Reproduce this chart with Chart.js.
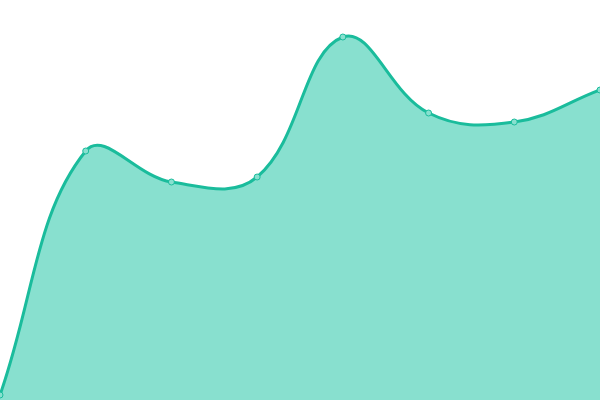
<!DOCTYPE html>
<html>
<head>
<meta charset="utf-8">
<script src="https://cdn.jsdelivr.net/npm/chart.js@4"></script>
<style>
  html, body { margin: 0; padding: 0; background: #fff; }
  #wrap { width: 600px; height: 400px; }
</style>
</head>
<body>
<div id="wrap"><canvas id="chart1"></canvas></div>
<script>
var labels = ["1", "2", "3", "4", "5", "6", "7", "8"];
var values = [1.25, 62.25, 54.5, 55.75, 90.75, 71.75, 69.5, 77.5];

var ctx1 = document.getElementById("chart1").getContext("2d");
new Chart(ctx1, {
  type: "line",
  data: {
    labels: labels,
    datasets: [
      {
        data: values,
        fill: true,
        tension: 0.4,
        borderColor: "#1abc9c",
        backgroundColor: "#88e0cf",
        borderWidth: 3,
        pointRadius: 3,
        pointBorderWidth: 1,
        pointBackgroundColor: "#88e0cf",
        pointBorderColor: "#1abc9c",
      },
    ],
  },
  options: {
    responsive: true,
    maintainAspectRatio: false,
    animation: false,
    layout: { padding: 0, autoPadding: false },
    plugins: { legend: { display: false }, tooltip: { enabled: false } },
    scales: {
      x: { display: false },
      y: { display: false, min: 0, max: 100 },
    },
  },
});
</script>
</body>
</html>
